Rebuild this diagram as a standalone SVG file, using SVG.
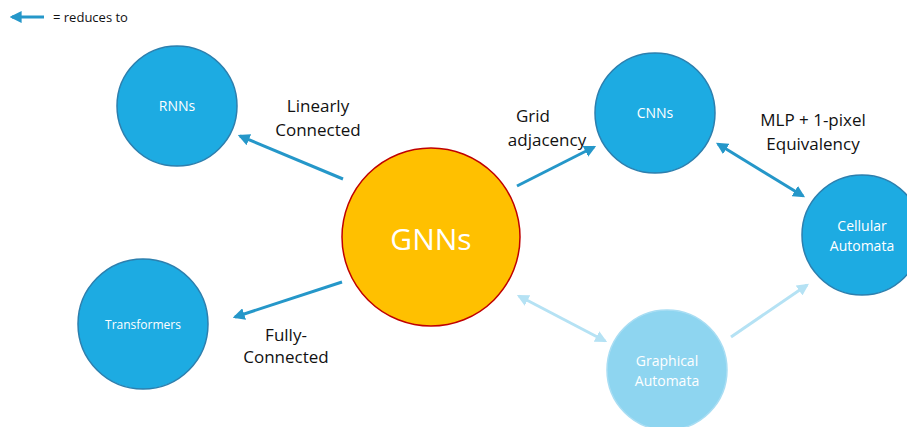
<svg xmlns="http://www.w3.org/2000/svg" width="907" height="427" viewBox="0 0 907 427">
<defs>
<marker id="ah" viewBox="0 0 10 10" refX="8" refY="5" markerWidth="4" markerHeight="4" orient="auto-start-reverse" markerUnits="strokeWidth"><path d="M0,0 L10,5 L0,10 z" fill="#2597C9"/></marker>
<marker id="ahl" viewBox="0 0 10 10" refX="8" refY="5" markerWidth="4" markerHeight="4" orient="auto-start-reverse" markerUnits="strokeWidth"><path d="M0,0 L10,5 L0,10 z" fill="#B5E2F4"/></marker>
<style>
.n{fill:#1DABE2;stroke:#2C7FAE;stroke-width:1.5}
.nl{fill:#8ED5F0;stroke:#A8DDF3;stroke-width:1.5}
.t{font-family:"Open Sans","Liberation Sans",sans-serif;fill:#fff;text-anchor:middle}
.lb{font-family:"Open Sans","Liberation Sans",sans-serif;fill:#111;font-size:17px;text-anchor:middle}
.c{stroke:#2597C9;stroke-width:3;fill:none}
.cl{stroke:#B5E2F4;stroke-width:3;fill:none}
</style>
</defs>
<rect width="907" height="427" fill="#fff"/>
<g id="legend">
<line x1="44" y1="17" x2="12" y2="17" class="c" marker-end="url(#ah)"/>
<text x="53" y="22" font-family="Open Sans,Liberation Sans,sans-serif" font-size="13" fill="#111">= reduces to</text>
</g>
<g id="connectors">
<line x1="343" y1="179" x2="240" y2="136" class="c" marker-end="url(#ah)"/>
<line x1="342" y1="282" x2="235" y2="317" class="c" marker-end="url(#ah)"/>
<line x1="517" y1="186" x2="594" y2="147" class="c" marker-end="url(#ah)"/>
<line x1="718" y1="144" x2="803" y2="196" class="c" marker-start="url(#ah)" marker-end="url(#ah)"/>
<line x1="519" y1="296" x2="605" y2="341" class="cl" marker-start="url(#ahl)" marker-end="url(#ahl)"/>
<line x1="731" y1="337" x2="807" y2="285" class="cl" marker-end="url(#ahl)"/>
</g>
<g id="rnns"><circle cx="177" cy="106" r="60" class="n"/><text x="177" y="111" class="t" font-size="14">RNNs</text></g>
<g id="cnns"><circle cx="655" cy="113" r="60" class="n"/><text x="655" y="118" class="t" font-size="14">CNNs</text></g>
<g id="transformers"><circle cx="143" cy="324" r="65" class="n"/><text x="143" y="329" class="t" font-size="12">Transformers</text></g>
<g id="cellular"><circle cx="862" cy="235" r="60" class="n"/><text x="862" y="231" class="t" font-size="14">Cellular</text><text x="862" y="251" class="t" font-size="14">Automata</text></g>
<g id="graphical"><circle cx="667" cy="370" r="60" class="nl"/><text x="667" y="366" class="t" font-size="14">Graphical</text><text x="667" y="386" class="t" font-size="14">Automata</text></g>
<g id="gnns"><circle cx="431" cy="237" r="89" fill="#FFC000" stroke="#C00000" stroke-width="1.5"/><text x="431" y="250" class="t" font-size="30">GNNs</text></g>
<g id="labels">
<text x="318" y="112" class="lb">Linearly</text>
<text x="318" y="136" class="lb">Connected</text>
<text x="533" y="122" class="lb">Grid</text>
<text x="547" y="146" class="lb">adjacency</text>
<text x="813" y="126" class="lb">MLP + 1-pixel</text>
<text x="813" y="150" class="lb">Equivalency</text>
<text x="286" y="341" class="lb">Fully-</text>
<text x="286" y="363" class="lb">Connected</text>
</g>
</svg>
